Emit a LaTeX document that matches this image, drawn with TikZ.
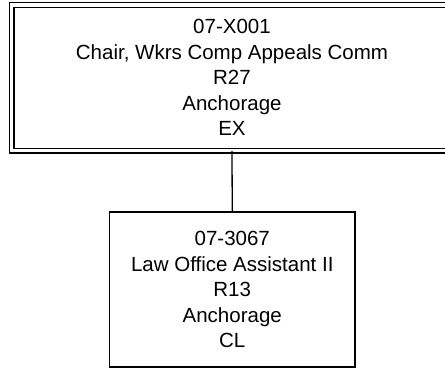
\documentclass[tikz,border=0pt]{standalone}
\usepackage{fontspec}
\setmainfont{Liberation Sans}
\usetikzlibrary{positioning}

\begin{document}
\begin{tikzpicture}[x=1pt,y=1pt,
    posbox/.style={draw,line width=1.3pt,rectangle,align=center,inner sep=0pt,
      font=\fontsize{20.5}{25.5}\selectfont}]
    \useasboundingbox (0,0) rectangle (445,368);

    \node[posbox,double,double distance=3.4pt,minimum width=441pt,minimum height=145.5pt] (chair) at (232,290.25)
      {07-X001\\Chair, Wkrs Comp Appeals Comm\\R27\\Anchorage\\EX};

    \node[posbox,minimum width=245.5pt,minimum height=155pt] (lawoffice) at (232.25,78.5)
      {07-3067\\Law Office Assistant II\\R13\\Anchorage\\CL};

    \draw[line width=1.3pt] (chair.south) -- (lawoffice.north);
\end{tikzpicture}
\end{document}
